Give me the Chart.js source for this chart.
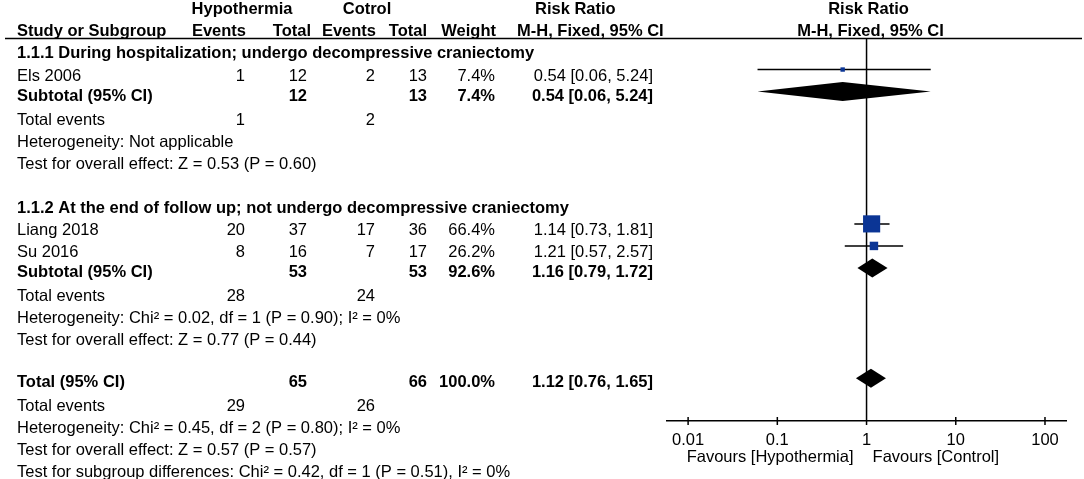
<!DOCTYPE html>
<html>
<head>
<meta charset="utf-8">
<script src="https://cdn.jsdelivr.net/npm/chart.js@4.4.1/dist/chart.umd.min.js"></script>
<style>
  body { margin: 0; background: #fff; }
</style>
</head>
<body>
<canvas id="forest-chart" width="1084" height="479"></canvas>
<script>
// Studies
const studies = ['Els 2006', 'Liang 2018', 'Su 2016'];
const studyGroup = [0, 1, 1];
const hypEvents = [1, 20, 8];
const hypTotal = [12, 37, 16];
const ctlEvents = [2, 17, 7];
const ctlTotal = [13, 36, 17];
const studyWeight = [7.4, 66.4, 26.2];
const studyRR = [0.54, 1.14, 1.21];
const studyLow = [0.06, 0.73, 0.57];
const studyHigh = [5.24, 1.81, 2.57];

// Subgroups
const subgroupNames = [
  '1.1.1 During hospitalization; undergo decompressive craniectomy',
  '1.1.2 At the end of follow up; not undergo decompressive craniectomy'
];
const subHypEvents = [1, 28];
const subCtlEvents = [2, 24];
const subHypTotal = [12, 53];
const subCtlTotal = [13, 53];
const subWeight = [7.4, 92.6];
const subRR = [0.54, 1.16];
const subLow = [0.06, 0.79];
const subHigh = [5.24, 1.72];
const subHeterogeneity = [
  'Heterogeneity: Not applicable',
  'Heterogeneity: Chi² = 0.02, df = 1 (P = 0.90); I² = 0%'
];
const subOverall = [
  'Test for overall effect: Z = 0.53 (P = 0.60)',
  'Test for overall effect: Z = 0.77 (P = 0.44)'
];

// Overall
const totalEvents = [29, 26];
const totalN = [65, 66];
const totalWeight = 100.0;
const totalRR = [1.12, 0.76, 1.65];
const totalNotes = [
  'Heterogeneity: Chi² = 0.45, df = 2 (P = 0.80); I² = 0%',
  'Test for overall effect: Z = 0.57 (P = 0.57)',
  'Test for subgroup differences: Chi² = 0.42, df = 1 (P = 0.51), I² = 0%'
];

// Axis
const tickValues = [0.01, 0.1, 1, 10, 100];
const tickLabels = ['0.01', '0.1', '1', '10', '100'];
const favourLabels = ['Favours [Hypothermia]', 'Favours [Control]'];

const FONT = "'Liberation Sans', Arial, sans-serif";
const FS = 16.5;

// column positions of the table (px)
const COLS = {
  label: [17, 'left'],
  hypEv: [245, 'right'],
  hypTot: [307, 'right'],
  ctlEv: [375, 'right'],
  ctlTot: [427, 'right'],
  weight: [495, 'right'],
  ci: [653, 'right']
};

const fmtCI = (m, l, h) => m.toFixed(2) + ' [' + l.toFixed(2) + ', ' + h.toFixed(2) + ']';
const fmtW = w => w.toFixed(1) + '%';

// build the rows of the table
const cells = [];
const studyRows = [];
const diamonds = [];
function put(row, col, text, bold, summary) {
  cells.push({ row, x: COLS[col][0], align: COLS[col][1], text: String(text), bold: !!bold, summary: !!summary });
}

let r = 2;
subgroupNames.forEach((name, g) => {
  put(r++, 'label', name, true);
  studies.forEach((s, i) => {
    if (studyGroup[i] !== g) return;
    put(r, 'label', s);
    put(r, 'hypEv', hypEvents[i]);
    put(r, 'hypTot', hypTotal[i]);
    put(r, 'ctlEv', ctlEvents[i]);
    put(r, 'ctlTot', ctlTotal[i]);
    put(r, 'weight', fmtW(studyWeight[i]));
    put(r, 'ci', fmtCI(studyRR[i], studyLow[i], studyHigh[i]));
    studyRows[i] = r++;
  });
  put(r, 'label', 'Subtotal (95% CI)', true, true);
  put(r, 'hypTot', subHypTotal[g], true, true);
  put(r, 'ctlTot', subCtlTotal[g], true, true);
  put(r, 'weight', fmtW(subWeight[g]), true, true);
  put(r, 'ci', fmtCI(subRR[g], subLow[g], subHigh[g]), true, true);
  diamonds.push({ row: r++, est: subRR[g], lo: subLow[g], hi: subHigh[g] });
  put(r, 'label', 'Total events');
  put(r, 'hypEv', subHypEvents[g]);
  put(r++, 'ctlEv', subCtlEvents[g]);
  put(r++, 'label', subHeterogeneity[g]);
  put(r++, 'label', subOverall[g]);
  r++;
});
put(r, 'label', 'Total (95% CI)', true, true);
put(r, 'hypTot', totalN[0], true, true);
put(r, 'ctlTot', totalN[1], true, true);
put(r, 'weight', fmtW(totalWeight), true, true);
put(r, 'ci', fmtCI(totalRR[0], totalRR[1], totalRR[2]), true, true);
diamonds.push({ row: r++, est: totalRR[0], lo: totalRR[1], hi: totalRR[2] });
put(r, 'label', 'Total events');
put(r, 'hypEv', totalEvents[0]);
put(r++, 'ctlEv', totalEvents[1]);
totalNotes.forEach(t => put(r++, 'label', t));

// header texts: [row, x, align, text]
const headers = [
  [0, 242, 'center', 'Hypothermia'],
  [0, 367, 'center', 'Cotrol'],
  [0, 535, 'left', 'Risk Ratio'],
  [1, 17, 'left', 'Study or Subgroup'],
  [1, 246, 'right', 'Events'],
  [1, 311, 'right', 'Total'],
  [1, 376, 'right', 'Events'],
  [1, 427, 'right', 'Total'],
  [1, 496, 'right', 'Weight'],
  [1, 517, 'left', 'M-H, Fixed, 95% CI']
];

const forestPlugin = {
  id: 'forest',
  beforeDatasetsDraw(chart) {
    const { ctx, chartArea, scales: { x, y } } = chart;
    const ruleY = y.getPixelForValue(1) + 13;
    const x1 = x.getPixelForValue(1);
    ctx.save();
    ctx.strokeStyle = '#000';
    ctx.lineWidth = 1.5;
    ctx.beginPath();
    ctx.moveTo(5, ruleY);
    ctx.lineTo(1082, ruleY);
    ctx.moveTo(x1, ruleY);
    ctx.lineTo(x1, chartArea.bottom);
    x.ticks.forEach(t => {
      const px = x.getPixelForValue(t.value);
      ctx.moveTo(px, chartArea.bottom - 4);
      ctx.lineTo(px, chartArea.bottom + 4);
    });
    ctx.stroke();
    ctx.restore();
  },
  afterDatasetsDraw(chart) {
    const { ctx, scales: { x, y } } = chart;
    ctx.save();
    ctx.fillStyle = '#000';
    diamonds.forEach(d => {
      const yc = y.getPixelForValue(d.row);
      ctx.beginPath();
      ctx.moveTo(x.getPixelForValue(d.lo), yc);
      ctx.lineTo(x.getPixelForValue(d.est), yc - 9.5);
      ctx.lineTo(x.getPixelForValue(d.hi), yc);
      ctx.lineTo(x.getPixelForValue(d.est), yc + 9.5);
      ctx.closePath();
      ctx.fill();
    });
    ctx.restore();
  },
  afterDraw(chart) {
    const { ctx, chartArea, scales: { x, y } } = chart;
    ctx.save();
    ctx.fillStyle = '#000';
    ctx.textBaseline = 'alphabetic';
    cells.forEach(c => {
      ctx.font = (c.bold ? 'bold ' : '') + FS + 'px ' + FONT;
      ctx.textAlign = c.align;
      ctx.fillText(c.text, c.x, y.getPixelForValue(c.row) + (c.summary ? 9 : 11));
    });
    ctx.font = 'bold ' + FS + 'px ' + FONT;
    headers.forEach(h => {
      ctx.textAlign = h[2];
      ctx.fillText(h[3], h[1], y.getPixelForValue(h[0]) + 11);
    });
    // right side header, centred over the plot
    const mid = (chartArea.left + chartArea.right) / 2;
    ctx.textAlign = 'center';
    ctx.fillText('Risk Ratio', mid + 2, y.getPixelForValue(0) + 11);
    ctx.fillText('M-H, Fixed, 95% CI', mid + 4, y.getPixelForValue(1) + 11);
    // favours labels
    const x1 = x.getPixelForValue(1);
    ctx.font = FS + 'px ' + FONT;
    ctx.textAlign = 'right';
    ctx.fillText(favourLabels[0], x1 - 13, chartArea.bottom + 41);
    ctx.textAlign = 'left';
    ctx.fillText(favourLabels[1], x1 + 6, chartArea.bottom + 41);
    ctx.restore();
  }
};

const ctx = document.getElementById('forest-chart').getContext('2d');
const forestChart = new Chart(ctx, {
  type: 'scatter',
  data: {
    datasets: [
      ...studies.map((s, i) => ({
        label: s,
        data: [{ x: studyLow[i], y: studyRows[i] }, { x: studyHigh[i], y: studyRows[i] }],
        showLine: true,
        borderColor: '#000',
        borderWidth: 1.5,
        pointRadius: 0,
        order: 2
      })),
      {
        label: 'Risk ratio',
        data: studies.map((s, i) => ({ x: studyRR[i], y: studyRows[i] })),
        pointStyle: 'rect',
        pointRadius: studyWeight.map(w => (2.8 + 0.216 * w) / Math.SQRT2),
        pointBackgroundColor: '#0b3595',
        pointBorderWidth: 0,
        order: 1
      }
    ]
  },
  options: {
    responsive: false,
    animation: false,
    events: [],
    devicePixelRatio: 1,
    layout: { autoPadding: false, padding: { left: 667, right: 18, top: 0, bottom: 0 } },
    plugins: { legend: { display: false }, tooltip: { enabled: false } },
    scales: {
      x: {
        type: 'logarithmic',
        min: 0.0058,
        max: 172,
        bounds: 'data',
        afterBuildTicks: s => { s.ticks = tickValues.map(v => ({ value: v })); },
        afterFit: s => { s.height = 58; },
        grid: { display: false },
        border: { display: true, color: '#000', width: 1.5 },
        ticks: {
          color: '#000',
          font: { family: FONT, size: FS },
          padding: 2,
          autoSkip: false,
          maxRotation: 0,
          callback: (v, i) => tickLabels[i]
        }
      },
      y: { type: 'linear', reverse: true, min: -0.154, max: 18.94, display: false }
    }
  },
  plugins: [forestPlugin]
});
</script>
</body>
</html>
